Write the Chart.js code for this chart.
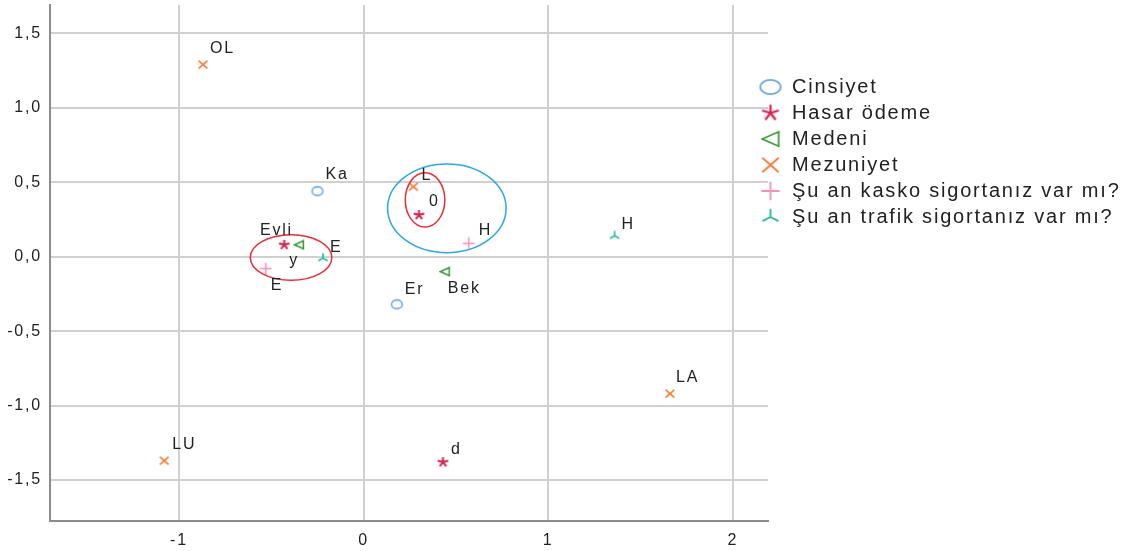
<!DOCTYPE html>
<html>
<head>
<meta charset="utf-8">
<script src="https://cdn.jsdelivr.net/npm/chart.js@4.4.0/dist/chart.umd.min.js"></script>
<style>
    html, body { margin: 0; padding: 0; background: #fff; }
</style>
</head>
<body>
<canvas id="grafico" width="1137" height="551"></canvas>
<script>
// Datos del gráfico
const seriesNames = ['Cinsiyet', 'Hasar ödeme', 'Medeni', 'Mezuniyet', 'Şu an kasko sigortanız var mı?', 'Şu an trafik sigortanız var mı?'];

const cinsiyetX = [-0.25, 0.18];
const cinsiyetY = [0.44, -0.32];
const cinsiyetText = ['Ka', 'Er'];

const hasarX = [-0.43, 0.30, 0.43];
const hasarY = [0.08, 0.28, -1.38];
const hasarText = ['y', '0', 'd'];

const medeniX = [-0.35, 0.44];
const medeniY = [0.08, -0.10];
const medeniText = ['Evli', 'Bek'];

const mezuniyetX = [-0.87, 0.27, -1.08, 1.66];
const mezuniyetY = [1.29, 0.47, -1.37, -0.92];
const mezuniyetText = ['OL', 'L', 'LU', 'LA'];

const kaskoX = [-0.53, 0.57];
const kaskoY = [-0.08, 0.09];
const kaskoText = ['E', 'H'];

const trafikX = [-0.22, 1.36];
const trafikY = [-0.01, 0.14];
const trafikText = ['E', 'H'];

const xTicks = [-1, 0, 1, 2];
const yTicks = [-1.5, -1, -0.5, 0, 0.5, 1, 1.5];

// Elipses dibujadas encima (centro y radios en unidades de los ejes)
const ellipseCx = [-0.393, 0.451, 0.333];
const ellipseCy = [-0.006, 0.325, 0.381];
const ellipseRx = [0.221, 0.321, 0.107];
const ellipseRy = [0.153, 0.298, 0.182];

// Estilos
const colors = ['#6fa8ef', '#dc1f4c', '#3d9b3d', '#f4793b', '#f78fb9', '#25b89e'];
const ellipseColors = ['#ee2a35', '#2aa8e8', '#ee2a35'];
const FONT = '"Liberation Sans", Arial, sans-serif';

// desplazamiento de las etiquetas respecto al punto (px)
const labelOffsets = [
    [[8, -17], [8, -15]],
    [[5, 16], [10, -13], [8, -13]],
    [[-39, -14], [3, 17]],
    [[7, -16], [8, -11], [8, -16], [6, -16]],
    [[5, 17], [10, -13]],
    [[7, -11], [7, -11]]
];

// Crea un marcador como canvas
function marker(kind, w, h, color, lw) {
    const c = document.createElement('canvas');
    c.width = w;
    c.height = h;
    const g = c.getContext('2d');
    g.strokeStyle = color;
    g.lineWidth = lw;
    const cx = w / 2, cy = h / 2, rx = w / 2 - lw, ry = h / 2 - lw;
    g.beginPath();
    if (kind === 'circle') {
        g.ellipse(cx, cy, rx, ry, 0, 0, Math.PI * 2);
    } else if (kind === 'star') {
        for (let k = 0; k < 5; k++) {
            const a = -Math.PI / 2 + k * 2 * Math.PI / 5;
            g.moveTo(cx, cy);
            g.lineTo(cx + rx * Math.cos(a), cy + ry * Math.sin(a));
        }
    } else if (kind === 'triLeft') {
        g.moveTo(cx - rx, cy);
        g.lineTo(cx + rx, cy - ry);
        g.lineTo(cx + rx, cy + ry);
        g.closePath();
    } else if (kind === 'cross') {
        g.moveTo(cx - rx, cy - ry); g.lineTo(cx + rx, cy + ry);
        g.moveTo(cx + rx, cy - ry); g.lineTo(cx - rx, cy + ry);
    } else if (kind === 'plus') {
        g.moveTo(cx - rx, cy); g.lineTo(cx + rx, cy);
        g.moveTo(cx, cy - ry); g.lineTo(cx, cy + ry);
    } else if (kind === 'tripod') {
        g.moveTo(cx, cy); g.lineTo(cx, cy - ry);
        g.moveTo(cx, cy); g.lineTo(cx - rx * 0.87, cy + ry * 0.5);
        g.moveTo(cx, cy); g.lineTo(cx + rx * 0.87, cy + ry * 0.5);
    }
    g.stroke();
    return c;
}

const kinds = ['circle', 'star', 'triLeft', 'cross', 'plus', 'tripod'];
const plotSizes = [[14, 12], [15, 14], [12, 11], [12, 11], [15, 15], [14, 13]];
const legendSizes = [[24, 18], [22, 21], [20, 18], [20, 18], [22, 22], [22, 20]];
const plotMarkers = kinds.map((k, i) => marker(k, plotSizes[i][0], plotSizes[i][1], colors[i], k === 'star' ? 2 : 1.6));
const legendMarkers = kinds.map((k, i) => marker(k, legendSizes[i][0], legendSizes[i][1], colors[i], k === 'star' ? 2.2 : 1.8));

function toPoints(xs, ys) {
    return xs.map((x, i) => ({ x: x, y: ys[i] }));
}

const allX = [cinsiyetX, hasarX, medeniX, mezuniyetX, kaskoX, trafikX];
const allY = [cinsiyetY, hasarY, medeniY, mezuniyetY, kaskoY, trafikY];
const allText = [cinsiyetText, hasarText, medeniText, mezuniyetText, kaskoText, trafikText];

const datasets = seriesNames.map((name, i) => ({
    label: name,
    data: toPoints(allX[i], allY[i]),
    pointStyle: plotMarkers[i],
    borderColor: colors[i],
    backgroundColor: colors[i],
    pointNames: allText[i],
    labelOffsets: labelOffsets[i]
}));

// Plugin: espaciado de letras (la imagen original está algo estirada)
const letterSpacingPlugin = {
    id: 'letterSpacing',
    beforeDraw(chart) {
        chart.ctx.letterSpacing = '1.8px';
    }
};

// Plugin: posición de la leyenda
const legendPlace = {
    id: 'legendPlace',
    afterLayout(chart) {
        const l = chart.legend;
        l.left = 753;
        l.top = 71;
        l.width = 1137 - l.left;
        l.right = 1137;
        l.bottom = l.top + l.height;
    }
};

// Plugin: etiquetas de los puntos
const pointLabels = {
    id: 'pointLabels',
    afterDatasetsDraw(chart) {
        const ctx = chart.ctx;
        ctx.save();
        ctx.font = '16px ' + FONT;
        ctx.fillStyle = '#222';
        ctx.textAlign = 'left';
        ctx.textBaseline = 'middle';
        chart.data.datasets.forEach((ds, i) => {
            const meta = chart.getDatasetMeta(i);
            meta.data.forEach((pt, j) => {
                const off = ds.labelOffsets[j];
                ctx.fillText(ds.pointNames[j], pt.x + off[0], pt.y + off[1]);
            });
        });
        ctx.restore();
    }
};

// Plugin: elipses
const ellipses = {
    id: 'ellipses',
    afterDatasetsDraw(chart) {
        const ctx = chart.ctx;
        const xs = chart.scales.x, ys = chart.scales.y;
        ctx.save();
        ctx.lineWidth = 1.5;
        ellipseCx.forEach((cx, i) => {
            const px = xs.getPixelForValue(cx);
            const py = ys.getPixelForValue(ellipseCy[i]);
            const rx = Math.abs(xs.getPixelForValue(cx + ellipseRx[i]) - px);
            const ry = Math.abs(ys.getPixelForValue(ellipseCy[i] + ellipseRy[i]) - py);
            ctx.strokeStyle = ellipseColors[i];
            ctx.beginPath();
            ctx.ellipse(px, py, rx, ry, 0, 0, Math.PI * 2);
            ctx.stroke();
        });
        ctx.restore();
    }
};

const ctx = document.getElementById('grafico').getContext('2d');
const chart = new Chart(ctx, {
    type: 'scatter',
    data: { datasets: datasets },
    options: {
        responsive: false,
        animation: false,
        layout: { padding: { left: 0, right: 369, top: 4, bottom: 0 } },
        scales: {
            x: {
                type: 'linear',
                min: -1.699,
                max: 2.191,
                afterBuildTicks: scale => { scale.ticks = xTicks.map(v => ({ value: v })); },
                afterFit: scale => {
                    scale.height = 30;
                    scale.paddingLeft = 0;
                    scale.paddingRight = 0;
                },
                grid: { color: '#d0d0d0', lineWidth: 2, drawTicks: false },
                border: { color: '#8c8c8c', width: 2 },
                ticks: {
                    color: '#222',
                    padding: 10,
                    font: { size: 16, family: FONT },
                    callback: v => String(v)
                }
            },
            y: {
                type: 'linear',
                min: -1.775,
                max: 1.69,
                afterBuildTicks: scale => { scale.ticks = yTicks.map(v => ({ value: v })); },
                afterFit: scale => {
                    scale.width = 50;
                    scale.paddingTop = 0;
                    scale.paddingBottom = 0;
                },
                grid: { color: '#d0d0d0', lineWidth: 2, drawTicks: false },
                border: { color: '#8c8c8c', width: 2 },
                ticks: {
                    color: '#222',
                    padding: 8,
                    font: { size: 16, family: FONT },
                    callback: v => v.toFixed(1).replace('.', ',')
                }
            }
        },
        plugins: {
            tooltip: { enabled: false },
            legend: {
                position: 'chartArea',
                align: 'start',
                labels: {
                    usePointStyle: true,
                    pointStyleWidth: 23,
                    color: '#222',
                    padding: 6,
                    font: { size: 20, family: FONT },
                    generateLabels: chart => {
                        const items = Chart.defaults.plugins.legend.labels.generateLabels(chart);
                        items.forEach((it, i) => { it.pointStyle = legendMarkers[i]; });
                        return items;
                    }
                }
            }
        }
    },
    plugins: [letterSpacingPlugin, legendPlace, ellipses, pointLabels]
});
</script>
</body>
</html>
